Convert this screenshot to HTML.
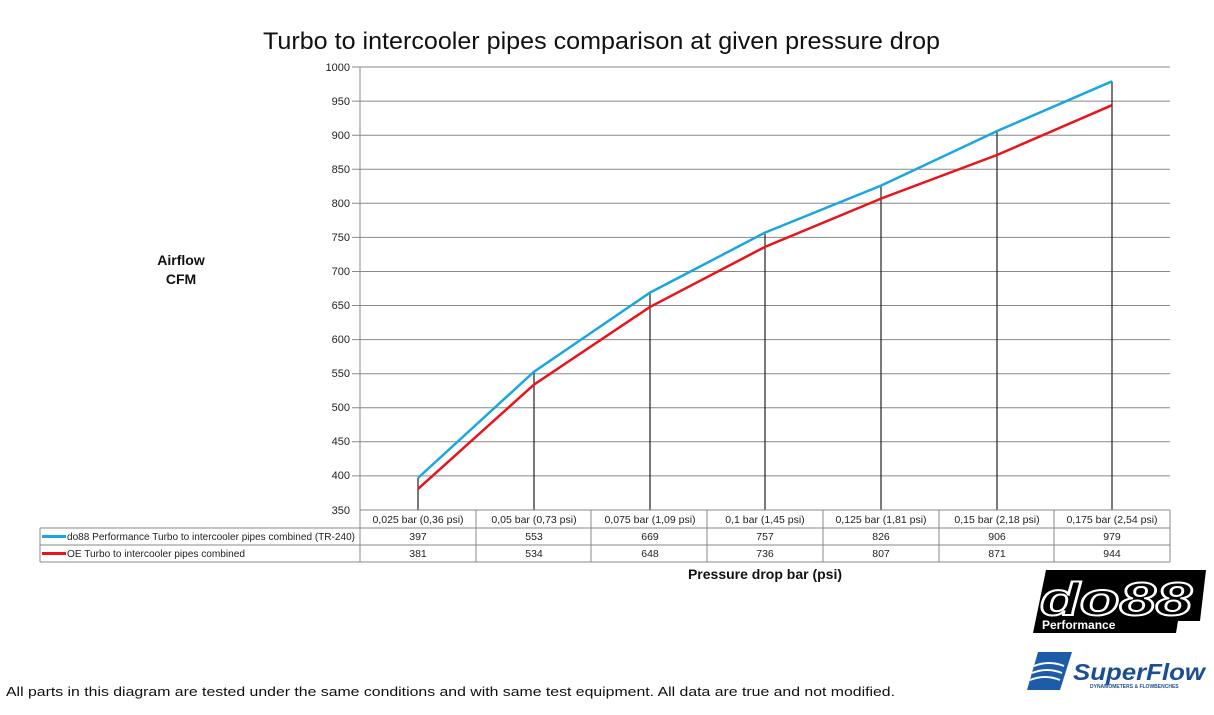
<!DOCTYPE html>
<html><head><meta charset="utf-8"><style>
body{margin:0;background:#fff;width:1214px;height:715px;overflow:hidden}
svg{display:block;font-family:"Liberation Sans",sans-serif}
</style></head><body>
<svg width="1214" height="715" viewBox="0 0 1214 715">
<text x="263" y="49" font-size="24" fill="#111" textLength="677" lengthAdjust="spacingAndGlyphs">Turbo to intercooler pipes comparison at given pressure drop</text>
<g stroke="#888" stroke-width="1">
<line x1="352" y1="67" x2="1170" y2="67"/><line x1="352" y1="101.1" x2="1170" y2="101.1"/><line x1="352" y1="135.2" x2="1170" y2="135.2"/><line x1="352" y1="169.2" x2="1170" y2="169.2"/><line x1="352" y1="203.3" x2="1170" y2="203.3"/><line x1="352" y1="237.4" x2="1170" y2="237.4"/><line x1="352" y1="271.5" x2="1170" y2="271.5"/><line x1="352" y1="305.5" x2="1170" y2="305.5"/><line x1="352" y1="339.6" x2="1170" y2="339.6"/><line x1="352" y1="373.7" x2="1170" y2="373.7"/><line x1="352" y1="407.8" x2="1170" y2="407.8"/><line x1="352" y1="441.8" x2="1170" y2="441.8"/><line x1="352" y1="475.9" x2="1170" y2="475.9"/>
<line x1="360" y1="67" x2="360" y2="562"/>
</g>
<g font-size="11" text-anchor="end" fill="#222">
<text x="350" y="71">1000</text><text x="350" y="105">950</text><text x="350" y="139">900</text><text x="350" y="173">850</text><text x="350" y="207">800</text><text x="350" y="241">750</text><text x="350" y="275">700</text><text x="350" y="309">650</text><text x="350" y="343">600</text><text x="350" y="377">550</text><text x="350" y="411">500</text><text x="350" y="445">450</text><text x="350" y="479">400</text><text x="350" y="514">350</text>
</g>
<g stroke="#222" stroke-width="1.2">
<line x1="418" y1="478" x2="418" y2="510"/><line x1="534" y1="371.7" x2="534" y2="510"/><line x1="650" y1="292.6" x2="650" y2="510"/><line x1="765" y1="232.6" x2="765" y2="510"/><line x1="881" y1="185.6" x2="881" y2="510"/><line x1="997" y1="131.1" x2="997" y2="510"/><line x1="1112" y1="81.3" x2="1112" y2="510"/>
</g>
<polyline fill="none" stroke="#1aa6e0" stroke-width="2.5" points="418,478 534,371.7 650,292.6 765,232.6 881,185.6 997,131.1 1112,81.3"/>
<polyline fill="none" stroke="#e8141c" stroke-width="2.5" points="418,488.9 534,384.6 650,306.9 765,246.9 881,198.6 997,155 1112,105.2"/>
<g stroke="#888" stroke-width="1" fill="none">
<line x1="360" y1="510" x2="1170" y2="510"/>
<line x1="40" y1="528" x2="1170" y2="528"/>
<line x1="40" y1="545" x2="1170" y2="545"/>
<line x1="40" y1="562" x2="1170" y2="562"/>
<line x1="40" y1="528" x2="40" y2="562"/>
<line x1="1170" y1="510" x2="1170" y2="562"/>
<line x1="476" y1="510" x2="476" y2="562"/><line x1="591" y1="510" x2="591" y2="562"/><line x1="707" y1="510" x2="707" y2="562"/><line x1="823" y1="510" x2="823" y2="562"/><line x1="939" y1="510" x2="939" y2="562"/><line x1="1054" y1="510" x2="1054" y2="562"/>
</g>
<g font-size="10.5" text-anchor="middle" fill="#222">
<text x="418" y="523">0,025 bar (0,36 psi)</text><text x="534" y="523">0,05 bar (0,73 psi)</text><text x="650" y="523">0,075 bar (1,09 psi)</text><text x="765" y="523">0,1 bar (1,45 psi)</text><text x="881" y="523">0,125 bar (1,81 psi)</text><text x="997" y="523">0,15 bar (2,18 psi)</text><text x="1112" y="523">0,175 bar (2,54 psi)</text>
<text x="418" y="540">397</text><text x="534" y="540">553</text><text x="650" y="540">669</text><text x="765" y="540">757</text><text x="881" y="540">826</text><text x="997" y="540">906</text><text x="1112" y="540">979</text>
<text x="418" y="557">381</text><text x="534" y="557">534</text><text x="650" y="557">648</text><text x="765" y="557">736</text><text x="881" y="557">807</text><text x="997" y="557">871</text><text x="1112" y="557">944</text>
</g>
<line x1="42" y1="536.5" x2="66" y2="536.5" stroke="#1aa6e0" stroke-width="3"/>
<line x1="42" y1="553.5" x2="66" y2="553.5" stroke="#e8141c" stroke-width="3"/>
<text x="67" y="540" font-size="10.5" fill="#222" textLength="288" lengthAdjust="spacingAndGlyphs">do88 Performance Turbo to intercooler pipes combined (TR-240)</text>
<text x="67" y="557" font-size="10.5" fill="#222" textLength="178" lengthAdjust="spacingAndGlyphs">OE Turbo to intercooler pipes combined</text>
<g font-size="14" font-weight="bold" text-anchor="middle" fill="#111">
<text x="181" y="265">Airflow</text><text x="181" y="284">CFM</text>
<text x="765" y="579">Pressure drop bar (psi)</text>
</g>
<text x="6" y="696" font-size="13" fill="#111" textLength="889" lengthAdjust="spacingAndGlyphs">All parts in this diagram are tested under the same conditions and with same test equipment. All data are true and not modified.</text>
<polygon points="1046,570 1206,570 1200,621 1178,621 1176,633 1033,633" fill="#000"/>
<text x="1040" y="615" font-size="46" font-weight="bold" font-style="italic" fill="#000" stroke="#fff" stroke-width="2" textLength="152" lengthAdjust="spacingAndGlyphs">do88</text>
<text x="1042" y="629" font-size="12" font-weight="bold" fill="#fff">Performance</text>
<polygon points="1038,652 1072,652 1060,690 1027,690" fill="#1c5ca8"/>
<path d="M1034,666 q15,-6 30,0 M1032,673 q15,-6 30,0 M1030,680 q15,-6 30,0" stroke="#fff" stroke-width="2" fill="none"/>
<text x="1073" y="680" font-size="23" font-weight="bold" font-style="italic" fill="#1c4f91" textLength="132" lengthAdjust="spacingAndGlyphs">SuperFlow</text>
<text x="1090" y="688" font-size="5" font-weight="bold" fill="#1c4f91">DYNAMOMETERS &amp; FLOWBENCHES</text>
</svg>
</body></html>
